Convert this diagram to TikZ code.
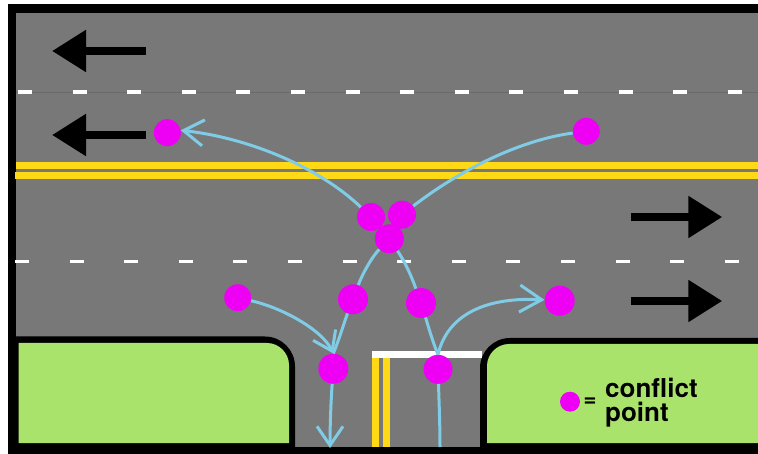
\documentclass[tikz,border=0pt]{standalone}
\usepackage{fontspec}
\setmainfont{TeX Gyre Heros}
\usetikzlibrary{arrows.meta}
\definecolor{road}{HTML}{787878}
\definecolor{lineY}{HTML}{FFD816}
\definecolor{grass}{HTML}{AAE36B}
\definecolor{pt}{HTML}{EE00F5}
\definecolor{flowc}{HTML}{80CCE6}
\tikzset{
  pnt/.style={circle,fill=pt,inner sep=0pt,minimum size=#1},
  flow/.style={draw=flowc,line width=3pt},
  barb/.style={flow,-{Straight Barb[length=20pt,width=26pt,line width=3pt]}},
  lane/.style={line width=8.3pt,-{Triangle[length=34pt,width=40pt]}},
  dash line/.style={white,line width=3.6pt,dash pattern=on 14pt off 40.6pt},
  yel/.style={fill=lineY},
}
\begin{document}
\begin{tikzpicture}[x=1pt,y=-1pt]
\useasboundingbox (0,0) rectangle (758,454);
% frame and road
\fill[white] (0,0) rectangle (758,454);
\fill[black] (8,4) rectangle (758,454);
\fill[road] (15.7,13.5) rectangle (758,447);
% curbs
\fill[black] (15.7,454) -- (15.7,336.5) -- (265,336.5) .. controls (281.5,336.5) and (295,350) .. (295,366.5) -- (295,454) -- cycle;
\fill[grass] (18.5,443) -- (18.5,343) -- (267,343) .. controls (279,343) and (289,353) .. (289,365) -- (289,443) -- cycle;
\fill[black] (758,454) -- (758,338) -- (510,338) .. controls (493.5,338) and (480,351.5) .. (480,368) -- (480,454) -- cycle;
\fill[grass] (758,443) -- (758,344) -- (509,344) .. controls (497,344) and (487,354) .. (487,366) -- (487,443) -- cycle;
% yellow centre lines
\fill[yel] (15.7,161.7) rectangle (758,169);
\fill[yel] (15,172.3) rectangle (758,179.3);
\fill[yel] (372.3,357) rectangle (379.3,447);
\fill[yel] (382.7,357) rectangle (390,447);
\fill[white] (371.7,351) rectangle (481.7,357.7);
% lane dashes
\draw[road!88!black,line width=.8pt] (15.7,92) -- (758,92);
\draw[dash line] (18,92) -- (758,92);
\draw[dash line] (15,261.5) -- (758,261.5);
% lane arrows
\coordinate (a1s) at (146,51);  \coordinate (a1e) at (52,51);
\coordinate (a2s) at (146,135); \coordinate (a2e) at (52,135);
\coordinate (a3s) at (631.3,217); \coordinate (a3e) at (722.3,217);
\coordinate (a4s) at (631.3,301); \coordinate (a4e) at (722.3,301);
\draw[lane] (a1s) -- (a1e);
\draw[lane] (a2s) -- (a2e);
\draw[lane] (a3s) -- (a3e);
\draw[lane] (a4s) -- (a4e);
% conflict points
\node[pnt=27pt] (p1) at (167.3,132.7) {};
\node[pnt=27pt] (p2) at (586.3,131.3) {};
\node[pnt=28pt] (c1) at (371,217) {};
\node[pnt=28pt] (c2) at (402,214.7) {};
\node[pnt=29pt] (c3) at (389.3,238.7) {};
\node[pnt=30pt] (n1) at (353,299.3) {};
\node[pnt=30pt] (n2) at (421,303) {};
\node[pnt=30pt] (m) at (333.3,368.7) {};
\node[pnt=29pt] (q) at (438,369.3) {};
\node[pnt=27pt] (l) at (237.7,297.7) {};
\node[pnt=30pt] (r) at (559.7,300.7) {};
\coordinate (botL) at (330,448);
\coordinate (botR) at (440,447);
% movements
\draw[barb] (c1) .. controls (320,168) and (250,138) .. (p1.10);
\draw[flow] (p2) .. controls (520,140) and (460,170) .. (c2);
\draw[flow] (c3) .. controls (371,258) and (362,275) .. (n1);
\draw[flow] (n1) .. controls (345,320) and (339,340) .. (m.north);
\draw[barb,-{Straight Barb[length=18pt,width=25pt,line width=3pt]}] (l) .. controls (283,308) and (322,330) .. (m.north);
\draw[barb,-{Straight Barb[length=19pt,width=26pt,line width=3pt]}] (m) .. controls (331,400) and (330,425) .. (botL);
\draw[flow] (c3) .. controls (405,262) and (411,275) .. (n2);
\draw[flow] (n2) .. controls (427,322) and (432,340) .. (q.north);
\draw[flow] (q) .. controls (439,400) and (440,425) .. (botR);
\draw[barb,-{Straight Barb[length=22pt,width=27pt,line width=3pt]}] (q.north) .. controls (448,312) and (490,297) .. (r);
% legend
\node[pnt=20pt] (key) at (570,401.7) {};
\node[inner sep=0pt,font=\fontsize{22}{22}\selectfont\bfseries] (eq) at (590,402) {=};
\node[inner sep=0pt,anchor=west,align=left,font=\fontsize{26}{24}\selectfont\bfseries] (lbl) at (605,403) {conflict\\point};
\end{tikzpicture}
\end{document}
